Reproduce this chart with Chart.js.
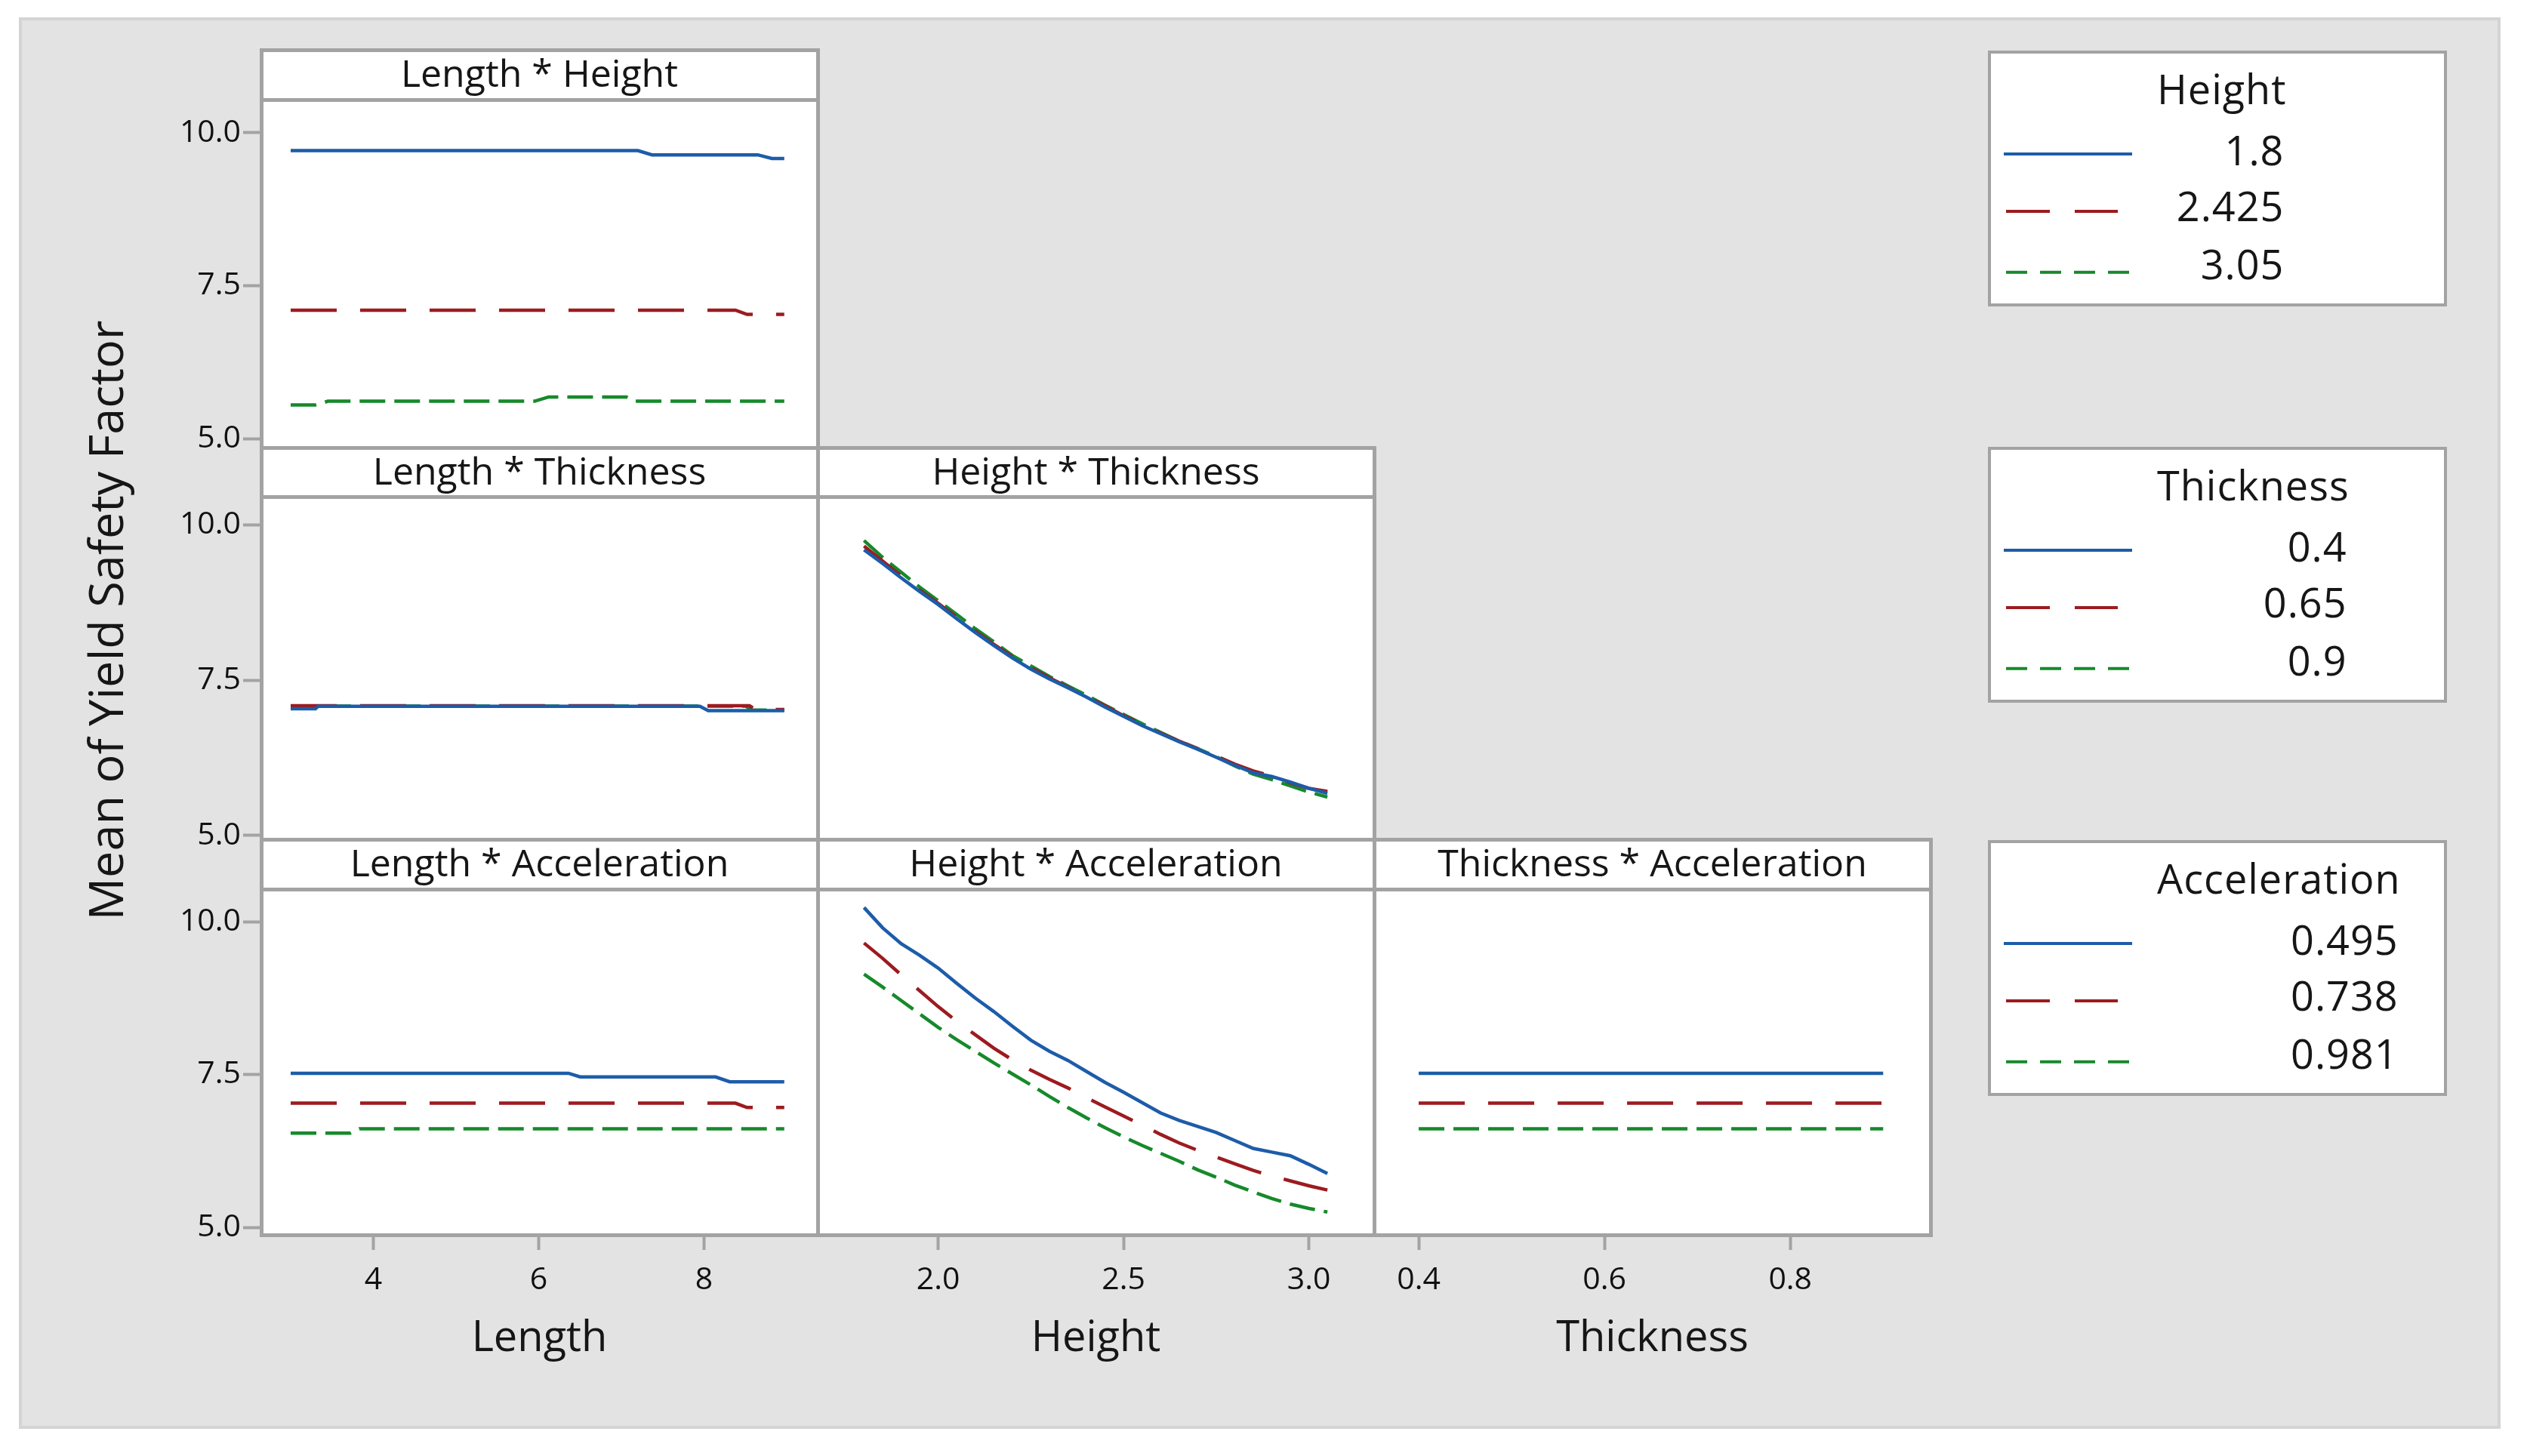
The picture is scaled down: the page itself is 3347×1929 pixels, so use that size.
<!DOCTYPE html>
<html><head><meta charset="utf-8">
<script src="https://cdn.jsdelivr.net/npm/chart.js@4.4.1/dist/chart.umd.min.js"></script>
<style>
html,body{margin:0;padding:0;background:#fff;}
#root{position:relative;width:3347px;height:1929px;overflow:hidden;font-family:'Open Sans',sans-serif;color:#161616;}
.abs{position:absolute;box-sizing:border-box;}
.txt{position:absolute;white-space:nowrap;line-height:1;}
</style></head><body><div id="root"></div>
<script>
// ---------------- DATA ----------------
const yAxisTitle = 'Mean of Yield Safety Factor';
const factorNames = ['Length', 'Height', 'Thickness', 'Acceleration'];
const yTicks = [5.0, 7.5, 10.0];
const lengthTicks = [4, 6, 8];
const heightTicks = [2.0, 2.5, 3.0];
const thicknessTicks = [0.4, 0.6, 0.8];

const heightLevels = ['1.8', '2.425', '3.05'];
const thicknessLevels = ['0.4', '0.65', '0.9'];
const accelLevels = ['0.495', '0.738', '0.981'];

// Length * Height
const lenHgt_x1 = [3.0, 7.2, 7.37, 8.65, 8.82, 8.97];
const lenHgt_y1 = [9.71, 9.71, 9.64, 9.64, 9.58, 9.58];
const lenHgt_x2 = [3.0, 8.38, 8.52, 8.97];
const lenHgt_y2 = [7.10, 7.10, 7.03, 7.03];
const lenHgt_x3 = [3.0, 3.3, 3.45, 5.95, 6.12, 7.06, 7.16, 8.97];
const lenHgt_y3 = [5.55, 5.55, 5.61, 5.61, 5.68, 5.68, 5.61, 5.61];

// Length * Thickness
const lenThk_x1 = [3.0, 3.3, 3.33, 7.95, 8.05, 8.97];
const lenThk_y1 = [7.04, 7.04, 7.08, 7.08, 7.01, 7.01];
const lenThk_x2 = [3.0, 8.55, 8.62, 8.97];
const lenThk_y2 = [7.09, 7.09, 7.03, 7.03];
const lenThk_x3 = [3.0, 8.5, 8.58, 8.97];
const lenThk_y3 = [7.085, 7.085, 7.02, 7.02];

// Length * Acceleration
const lenAcc_x1 = [3.0, 6.36, 6.5, 8.14, 8.31, 8.97];
const lenAcc_y1 = [7.52, 7.52, 7.46, 7.46, 7.38, 7.38];
const lenAcc_x2 = [3.0, 8.38, 8.52, 8.97];
const lenAcc_y2 = [7.03, 7.03, 6.96, 6.96];
const lenAcc_x3 = [3.0, 3.72, 3.83, 8.97];
const lenAcc_y3 = [6.54, 6.54, 6.61, 6.61];

// Height grid shared by the Height panels
const heightGrid = [1.80, 1.85, 1.90, 1.95, 2.00, 2.05, 2.10, 2.15, 2.20, 2.25, 2.30, 2.35, 2.40,
                    2.45, 2.50, 2.55, 2.60, 2.65, 2.70, 2.75, 2.80, 2.85, 2.90, 2.95, 3.00, 3.05];

// Height * Thickness
const hgtThk_y1 = [9.60, 9.38, 9.15, 8.93, 8.72, 8.49, 8.27, 8.06, 7.86, 7.68, 7.52, 7.38, 7.23,
                   7.07, 6.92, 6.77, 6.64, 6.51, 6.39, 6.26, 6.13, 6.01, 5.95, 5.86, 5.76, 5.68];
const hgtThk_y2 = [9.66, 9.42, 9.18, 8.95, 8.74, 8.51, 8.29, 8.08, 7.88, 7.70, 7.54, 7.39, 7.24,
                   7.09, 6.93, 6.79, 6.65, 6.52, 6.40, 6.28, 6.15, 6.04, 5.96, 5.85, 5.76, 5.71];
const hgtThk_y3 = [9.75, 9.48, 9.24, 9.00, 8.78, 8.56, 8.33, 8.12, 7.90, 7.73, 7.56, 7.41, 7.26,
                   7.10, 6.95, 6.80, 6.66, 6.52, 6.40, 6.27, 6.12, 5.99, 5.90, 5.80, 5.70, 5.62];

// Height * Acceleration
const hgtAcc_y1 = [10.23, 9.90, 9.64, 9.45, 9.24, 8.99, 8.75, 8.53, 8.29, 8.06, 7.88, 7.73, 7.55,
                   7.37, 7.21, 7.04, 6.87, 6.75, 6.65, 6.55, 6.42, 6.29, 6.23, 6.17, 6.03, 5.88];
const hgtAcc_y2 = [9.65, 9.40, 9.13, 8.87, 8.61, 8.37, 8.15, 7.93, 7.74, 7.57, 7.42, 7.28, 7.12,
                   6.97, 6.82, 6.67, 6.52, 6.38, 6.26, 6.15, 6.04, 5.93, 5.84, 5.76, 5.68, 5.61];
const hgtAcc_y3 = [9.14, 8.93, 8.71, 8.49, 8.27, 8.07, 7.88, 7.69, 7.51, 7.33, 7.14, 6.96, 6.79,
                   6.63, 6.48, 6.34, 6.21, 6.08, 5.94, 5.82, 5.69, 5.58, 5.47, 5.38, 5.31, 5.25];

// Thickness * Acceleration
const thkAcc_x = [0.40, 0.65, 0.90];
const thkAcc_y1 = [7.52, 7.52, 7.52];
const thkAcc_y2 = [7.03, 7.03, 7.03];
const thkAcc_y3 = [6.61, 6.61, 6.61];

// ---------------- STYLE / LAYOUT ----------------
const COLORS = ['#1d5ca9', '#9c1b1f', '#17892b'];
const DASH = [[], [61, 31], [34, 12]];
const LEG_DASH = [[], [58, 33], [28, 17]];
const BC = '#a3a3a3';
const BW = 5;
const WY = 130, HX = 120, EXTRA = 32;

const ROWS = [
  {ht: 66, hb: 132, pb: 593, ymin: 4.852, ymax: 10.543},
  {ht: 593, hb: 658, pb: 1112, ymin: 4.939, ymax: 10.456},
  {ht: 1112, hb: 1178, pb: 1636, ymin: 4.877, ymax: 10.531}
];
const COLS = [
  {x0: 346, x1: 1083, min: 2.644, max: 9.374, ticks: lengthTicks, fmt: v => String(Math.round(v))},
  {x0: 1083, x1: 1820, min: 1.675, max: 3.176, ticks: heightTicks, fmt: v => (+v).toFixed(1)},
  {x0: 1820, x1: 2557, min: 0.352, max: 0.951, ticks: thicknessTicks, fmt: v => (+v).toFixed(1)}
];

function pts(xs, ys) { return xs.map((x, i) => ({x: x, y: ys[i]})); }

const PANELS = [
  {r: 0, c: 0, title: factorNames[0] + ' * ' + factorNames[1],
   series: [pts(lenHgt_x1, lenHgt_y1), pts(lenHgt_x2, lenHgt_y2), pts(lenHgt_x3, lenHgt_y3)]},
  {r: 1, c: 0, title: factorNames[0] + ' * ' + factorNames[2],
   series: [pts(lenThk_x1, lenThk_y1), pts(lenThk_x2, lenThk_y2), pts(lenThk_x3, lenThk_y3)]},
  {r: 1, c: 1, title: factorNames[1] + ' * ' + factorNames[2],
   series: [pts(heightGrid, hgtThk_y1), pts(heightGrid, hgtThk_y2), pts(heightGrid, hgtThk_y3)]},
  {r: 2, c: 0, title: factorNames[0] + ' * ' + factorNames[3],
   series: [pts(lenAcc_x1, lenAcc_y1), pts(lenAcc_x2, lenAcc_y2), pts(lenAcc_x3, lenAcc_y3)]},
  {r: 2, c: 1, title: factorNames[1] + ' * ' + factorNames[3],
   series: [pts(heightGrid, hgtAcc_y1), pts(heightGrid, hgtAcc_y2), pts(heightGrid, hgtAcc_y3)]},
  {r: 2, c: 2, title: factorNames[2] + ' * ' + factorNames[3],
   series: [pts(thkAcc_x, thkAcc_y1), pts(thkAcc_x, thkAcc_y2), pts(thkAcc_x, thkAcc_y3)]}
];

const LEGENDS = [
  {top: 67, title: factorNames[1], labels: heightLevels},
  {top: 592, title: factorNames[2], labels: thicknessLevels},
  {top: 1113, title: factorNames[3], labels: accelLevels}
];

// ---------------- DRAW ----------------
Chart.defaults.font.family = "'Open Sans', sans-serif";
const root = document.getElementById('root');
const ASC = 0.888;

function box(l, t, w, h, style) {
  const d = document.createElement('div'); d.className = 'abs';
  Object.assign(d.style, {left: l + 'px', top: t + 'px', width: w + 'px', height: h + 'px'}, style || {});
  root.appendChild(d); return d;
}
function text(str, x, baseline, size, opts) {
  opts = opts || {};
  const d = document.createElement('div'); d.className = 'txt'; d.textContent = str;
  d.style.fontSize = size + 'px';
  d.style.top = (baseline - ASC * size) + 'px';
  if (opts.align === 'center') { d.style.left = x + 'px'; d.style.transform = 'translateX(-50%)'; }
  else d.style.left = x + 'px';
  if (opts.ls) d.style.letterSpacing = opts.ls + 'px';
  root.appendChild(d); return d;
}
function frame(x0, y0, x1, y1) {
  box(x0 - BW / 2, y0 - BW / 2, x1 - x0 + BW, y1 - y0 + BW, {background: '#fff', border: BW + 'px solid ' + BC});
}

// background
box(25, 23, 3287, 1870, {background: '#e3e3e3', border: '4px solid #d4d4d4'});

// frames + headers
PANELS.forEach(p => {
  const r = ROWS[p.r], c = COLS[p.c];
  frame(c.x0, r.ht, c.x1, r.hb);
  frame(c.x0, r.hb, c.x1, r.pb);
});
PANELS.forEach(p => {
  const r = ROWS[p.r], c = COLS[p.c];
  text(p.title, (c.x0 + c.x1) / 2, r.ht + 49, 50, {align: 'center'});
});

// charts
PANELS.forEach(p => {
  const r = ROWS[p.r], c = COLS[p.c];
  const hasY = p.c === 0, hasX = p.r === 2;
  const padB = (hasY && !hasX) ? EXTRA : 0;
  const left = c.x0 - (hasY ? WY : 0), top = r.hb;
  const w = c.x1 - c.x0 + (hasY ? WY : 0), h = r.pb - r.hb + (hasX ? HX : 0) + padB;
  const cv = document.createElement('canvas');
  cv.width = w; cv.height = h;
  cv.style.cssText = 'position:absolute;left:' + left + 'px;top:' + top + 'px;width:' + w + 'px;height:' + h + 'px;';
  root.appendChild(cv);
  new Chart(cv, {
    type: 'line',
    data: {datasets: p.series.map((s, i) => ({
      data: s, borderColor: COLORS[i], borderDash: DASH[i], borderWidth: 4.5,
      pointRadius: 0, tension: 0, fill: false, borderCapStyle: 'butt'
    }))},
    options: {
      responsive: false, animation: false, devicePixelRatio: 1, events: [],
      layout: {padding: {left: 0, right: 0, top: 0, bottom: padB}},
      plugins: {legend: {display: false}, tooltip: {enabled: false}, title: {display: false}},
      scales: {
        x: {
          type: 'linear', min: c.min, max: c.max, display: hasX, position: 'bottom',
          afterBuildTicks: s => { s.ticks = c.ticks.map(v => ({value: v})); },
          afterFit: s => {
            s.height = hasX ? HX : 0; s.paddingLeft = 0; s.paddingRight = 0;
            s.paddingTop = 0; s.paddingBottom = 0;
          },
          ticks: {autoSkip: false, maxRotation: 0, minRotation: 0, padding: 16,
                  font: {size: 41}, color: '#111', callback: v => c.fmt(v)},
          grid: {drawOnChartArea: false, drawTicks: true, tickLength: 20, tickWidth: 4, tickColor: BC},
          border: {display: false}
        },
        y: {
          type: 'linear', min: r.ymin, max: r.ymax, display: hasY, position: 'left',
          afterBuildTicks: s => { s.ticks = yTicks.map(v => ({value: v})); },
          afterFit: s => {
            s.width = hasY ? WY : 0; s.paddingTop = 0; s.paddingBottom = 0;
            s.paddingLeft = 0; s.paddingRight = 0;
          },
          ticks: {padding: 3, font: {size: 41}, color: '#111', callback: v => (+v).toFixed(1)},
          grid: {drawOnChartArea: false, drawTicks: true, tickLength: 24, tickWidth: 4, tickColor: BC},
          border: {display: false}
        }
      }
    }
  });
});

// axis titles
COLS.forEach((c, i) => text(factorNames[i], (c.x0 + c.x1) / 2, 1790, 56, {align: 'center'}));
(function () {
  const d = document.createElement('div'); d.className = 'txt'; d.textContent = yAxisTitle;
  d.style.fontSize = '63px';
  d.style.left = '138px'; d.style.top = '822px';
  d.style.transform = 'translate(-50%,-50%) rotate(-90deg)';
  root.appendChild(d);
})();

// legends
const SVGNS = 'http://www.w3.org/2000/svg';
LEGENDS.forEach(L => {
  box(2633, L.top, 608, 339, {background: '#fff', border: '4.5px solid ' + BC});
  const fs = 54;
  const wrap = document.createElement('div'); wrap.className = 'txt';
  wrap.style.fontSize = fs + 'px'; wrap.style.letterSpacing = '1px';
  wrap.style.left = '2857px'; wrap.style.top = (L.top + 70.6 - ASC * fs) + 'px';
  const t = document.createElement('div'); t.textContent = L.title; wrap.appendChild(t);
  const rowBase = [152, 225.5, 303.4];
  L.labels.forEach((lab, i) => {
    const e = document.createElement('div'); e.textContent = lab;
    e.style.position = 'absolute'; e.style.right = '3px';
    e.style.top = (rowBase[i] - 70.6) + 'px'; e.style.lineHeight = '1';
    wrap.appendChild(e);
  });
  root.appendChild(wrap);
  const svg = document.createElementNS(SVGNS, 'svg');
  svg.setAttribute('width', 200); svg.setAttribute('height', 240);
  svg.style.position = 'absolute'; svg.style.left = '2640px'; svg.style.top = (L.top + 80) + 'px';
  const ys = [137, 213, 293.7];
  const ends = [184, 165, 182];
  L.labels.forEach((lab, i) => {
    const ln = document.createElementNS(SVGNS, 'line');
    ln.setAttribute('x1', i === 0 ? 14 : 17); ln.setAttribute('x2', ends[i]);
    ln.setAttribute('y1', ys[i] - 80); ln.setAttribute('y2', ys[i] - 80);
    ln.setAttribute('stroke', COLORS[i]); ln.setAttribute('stroke-width', 4);
    if (LEG_DASH[i].length) ln.setAttribute('stroke-dasharray', LEG_DASH[i].join(' '));
    svg.appendChild(ln);
  });
  root.appendChild(svg);
});
</script>
</body></html>
